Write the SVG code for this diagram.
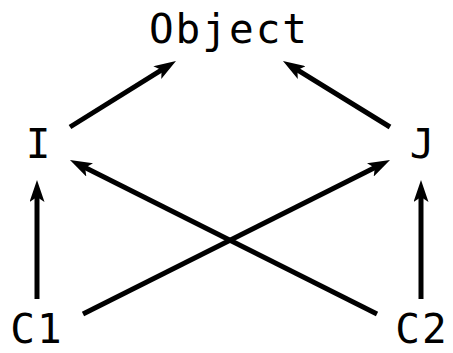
<svg xmlns="http://www.w3.org/2000/svg" width="453" height="353" viewBox="0 0 453 353">
<style>
.lbl{font-family:"DejaVu Sans Mono","Liberation Mono",monospace;font-size:41px;fill:#000;text-anchor:middle;letter-spacing:2px}
.edge{stroke:#000;stroke-width:5;fill:none;marker-end:url(#ah)}
</style>
<defs>
<marker id="ah" markerUnits="userSpaceOnUse" viewBox="0 0 22 15" markerWidth="22" markerHeight="15" refX="8" refY="7.5" orient="auto">
<path d="M0,0 L22,7.5 L0,15 L5,7.5 Z" fill="#000"/>
</marker>
</defs>
<g id="connectors">
<line class="edge" x1="70" y1="127" x2="164.1" y2="68.4"/>
<line class="edge" x1="390" y1="127" x2="294.9" y2="68.4"/>
<line class="edge" x1="37" y1="299" x2="37" y2="194"/>
<line class="edge" x1="421" y1="299" x2="421" y2="194"/>
<line class="edge" x1="377" y1="314" x2="82.5" y2="166.3"/>
<line class="edge" x1="83" y1="314" x2="377.5" y2="166.3"/>
</g>
<g id="Object"><text class="lbl" x="229" y="43">Object</text></g>
<g id="I"><text class="lbl" x="39" y="158">I</text></g>
<g id="J"><text class="lbl" x="423" y="158">J</text></g>
<g id="C1"><text class="lbl" x="37" y="343">C1</text></g>
<g id="C2"><text class="lbl" x="422" y="343">C2</text></g>
</svg>
